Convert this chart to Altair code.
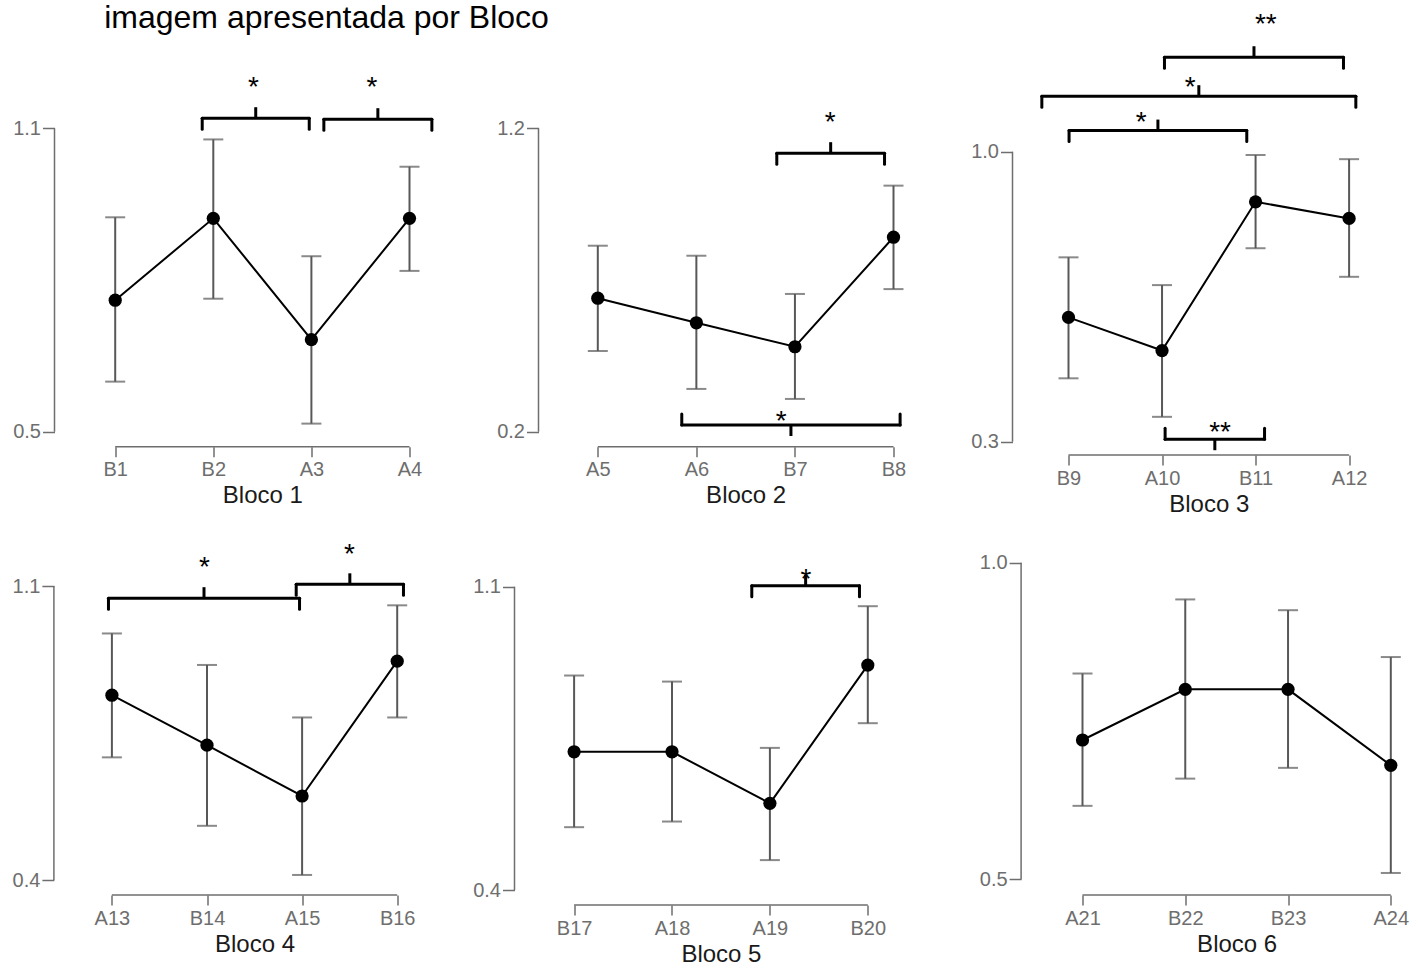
import altair as alt
import pandas as pd

# ---------------- data ----------------
TITLE = "imagem apresentada por Bloco"
BLOCK_TITLES = ["Bloco 1", "Bloco 2", "Bloco 3", "Bloco 4", "Bloco 5", "Bloco 6"]

CATEGORIES = [
    ["B1", "B2", "A3", "A4"],
    ["A5", "A6", "B7", "B8"],
    ["B9", "A10", "B11", "A12"],
    ["A13", "B14", "A15", "B16"],
    ["B17", "A18", "A19", "B20"],
    ["A21", "B22", "B23", "A24"],
]
MEANS = [
    [0.760, 0.922, 0.682, 0.922],
    [0.640, 0.559, 0.480, 0.841],
    [0.600, 0.520, 0.879, 0.839],
    [0.840, 0.721, 0.600, 0.921],
    [0.719, 0.719, 0.600, 0.919],
    [0.720, 0.800, 0.800, 0.680],
]
LOWER = [
    [0.599, 0.763, 0.516, 0.818],
    [0.466, 0.341, 0.308, 0.670],
    [0.453, 0.360, 0.767, 0.698],
    [0.692, 0.529, 0.412, 0.787],
    [0.545, 0.558, 0.469, 0.785],
    [0.616, 0.659, 0.676, 0.510],
]
UPPER = [
    [0.924, 1.078, 0.847, 1.024],
    [0.813, 0.780, 0.654, 1.011],
    [0.745, 0.678, 0.992, 0.982],
    [0.987, 0.912, 0.787, 1.054],
    [0.895, 0.881, 0.728, 1.055],
    [0.825, 0.942, 0.925, 0.851],
]
Y_TICKS = [[0.5, 1.1], [0.2, 1.2], [0.3, 1.0], [0.4, 1.1], [0.4, 1.1], [0.5, 1.0]]

# significance brackets (x in category positions, y in data units)
BR_PANEL = [0, 0, 1, 1, 2, 2, 2, 2, 3, 3, 4]
BR_X1 = [1.887, 3.127, 2.816, 1.852, 2.026, 0.715, 1.006, 2.033, 0.964, 2.938, 2.815]
BR_X2 = [2.978, 4.228, 3.909, 4.067, 3.940, 4.072, 2.906, 3.096, 2.973, 4.066, 3.915]
BR_Y = [1.120, 1.118, 1.118, 0.222, 1.228, 1.134, 1.051, 0.306, 1.071, 1.104, 1.102]
BR_DIR = ["up", "up", "up", "down", "up", "up", "up", "down", "up", "up", "up"]
BR_LABEL = ["*", "*", "*", "*", "**", "*", "*", "**", "*", "*", "*"]
BR_LABEL_X = [2.41, 3.617, 3.357, 2.860, 3.110, 2.300, 1.776, 2.621, 1.974, 3.498, 3.367]
BR_LABEL_Y = [1.195, 1.195, 1.244, 0.258, 1.324, 1.173, 1.089, 0.340, 1.162, 1.194, 1.135]

# ---------------- layout (pixels) ----------------
COL_LEFT = [53.3, 512.7, 1010.7]
COL_WIDTH = [459.4, 498.0, 400.0]
ROW_TOP = [0.0, 480.0]
ROW_GAP = 25.0
# per panel: y-axis line x, x-axis line y, first/last point x, low/high tick y
LAYOUT = [
    dict(axis_x=53.3, bottom=446.7, first=114.0, last=408.3, tick_lo=431.7, tick_hi=128.3),
    dict(axis_x=536.7, bottom=446.7, first=596.0, last=891.7, tick_lo=431.7, tick_hi=128.3),
    dict(axis_x=1010.7, bottom=455.0, first=1066.7, last=1347.3, tick_lo=441.7, tick_hi=151.7),
    dict(axis_x=52.7, bottom=895.0, first=110.7, last=396.0, tick_lo=880.0, tick_hi=586.0),
    dict(axis_x=512.7, bottom=905.0, first=572.3, last=866.0, tick_lo=890.0, tick_hi=586.7),
    dict(axis_x=1019.3, bottom=895.0, first=1080.7, last=1389.0, tick_lo=879.3, tick_hi=562.7),
]

FONT = "Liberation Sans"
AXIS_COLOR = "#6e6e6e"
ERR_COLOR = "#585858"
LEG_PX = 11
TIP_PX = 11


def label_expr(cats):
    expr = "''"
    for i in range(len(cats), 0, -1):
        expr = f"datum.value == {i} ? '{cats[i - 1]}' : ({expr})"
    return expr


def panel(k):
    lay = LAYOUT[k]
    col, row = k % 3, k // 3
    left, width = COL_LEFT[col], COL_WIDTH[col]
    top = ROW_TOP[row]
    height = lay["bottom"] - top
    cats = CATEGORIES[k]
    n = len(cats)
    step = (lay["last"] - lay["first"]) / (n - 1)
    xd0 = 1 - (lay["first"] - left) / step
    xd1 = xd0 + width / step
    x_axis_pos = 1 - (lay["first"] - lay["axis_x"]) / step
    lo_t, hi_t = Y_TICKS[k]
    ppu = (lay["tick_lo"] - lay["tick_hi"]) / (hi_t - lo_t)
    yd1 = hi_t + (lay["tick_hi"] - top) / ppu
    yd0 = lo_t - (lay["bottom"] - lay["tick_lo"]) / ppu
    xs = alt.Scale(domain=[xd0, xd1], nice=False, zero=False)
    ys = alt.Scale(domain=[yd0, yd1], nice=False, zero=False)

    title_x = (lay["first"] + lay["last"]) / 2 - left
    ax_x = alt.Axis(
        values=list(range(1, n + 1)),
        labelExpr=label_expr(cats),
        domain=False,
        grid=False,
        tickSize=10,
        tickWidth=1.5,
        tickColor=AXIS_COLOR,
        labelColor=AXIS_COLOR,
        labelFontSize=20,
        labelFont=FONT,
        labelPadding=3,
        title=BLOCK_TITLES[k],
        titleFont=FONT,
        titleFontSize=24,
        titleFontWeight="normal",
        titleColor="#1a1a1a",
        titlePadding=4,
        titleX=title_x,
    )
    ax_y = alt.Axis(
        values=[lo_t, hi_t],
        format=".1f",
        domain=False,
        grid=False,
        offset=-(lay["axis_x"] - left),
        tickSize=12,
        tickWidth=1.5,
        tickColor=AXIS_COLOR,
        labelColor=AXIS_COLOR,
        labelFontSize=20,
        labelFont=FONT,
        labelPadding=2,
        title="",
    )

    def X(field):
        return alt.X(field, scale=xs, axis=ax_x)

    def Y(field):
        return alt.Y(field, scale=ys, axis=ax_y)

    df = pd.DataFrame({
        "pos": list(range(1, n + 1)),
        "cat": cats,
        "mean": MEANS[k],
        "lo": LOWER[k],
        "hi": UPPER[k],
    })

    layers = []

    # range-frame axis lines
    yline = pd.DataFrame({"x": [x_axis_pos], "a": [lo_t], "b": [hi_t]})
    layers.append(
        alt.Chart(yline).mark_rule(color=AXIS_COLOR, strokeWidth=1.5).encode(
            x=X("x:Q"), y=Y("a:Q"), y2="b:Q"
        )
    )
    xline = pd.DataFrame({"a": [1], "b": [n], "y": [yd0]})
    layers.append(
        alt.Chart(xline).mark_rule(color=AXIS_COLOR, strokeWidth=1.5).encode(
            x=X("a:Q"), x2="b:Q", y=Y("y:Q")
        )
    )

    # error bars
    layers.append(
        alt.Chart(df).mark_rule(color=ERR_COLOR, strokeWidth=2).encode(
            x=X("pos:Q"), y=Y("lo:Q"), y2="hi:Q"
        )
    )
    layers.append(
        alt.Chart(df).transform_fold(["lo", "hi"], as_=["end", "val"]).mark_tick(
            orient="horizontal", size=20, thickness=2, color=ERR_COLOR
        ).encode(x=X("pos:Q"), y=Y("val:Q"))
    )

    # line + points
    layers.append(
        alt.Chart(df).mark_line(color="black", strokeWidth=2).encode(
            x=X("pos:Q"), y=Y("mean:Q")
        )
    )
    layers.append(
        alt.Chart(df).mark_circle(size=175, color="black", opacity=1).encode(
            x=X("pos:Q"), y=Y("mean:Q")
        )
    )

    # significance brackets
    idx = [i for i, p in enumerate(BR_PANEL) if p == k]
    if idx:
        br = pd.DataFrame({
            "x1": [BR_X1[i] for i in idx],
            "x2": [BR_X2[i] for i in idx],
            "y": [BR_Y[i] for i in idx],
            "dir": [BR_DIR[i] for i in idx],
            "label": [BR_LABEL[i] for i in idx],
            "lx": [BR_LABEL_X[i] for i in idx],
            "ly": [BR_LABEL_Y[i] for i in idx],
        })
        br["xc"] = (br["x1"] + br["x2"]) / 2
        legs = pd.concat([
            br[["x1", "y", "dir"]].rename(columns={"x1": "x"}),
            br[["x2", "y", "dir"]].rename(columns={"x2": "x"}),
        ])
        layers.append(
            alt.Chart(br).mark_rule(color="black", strokeWidth=3, strokeCap="round").encode(
                x=X("x1:Q"), x2="x2:Q", y=Y("y:Q")
            )
        )
        for d, sign in (("up", 1), ("down", -1)):
            sub_legs = legs[legs["dir"] == d]
            sub_br = br[br["dir"] == d]
            if len(sub_br) == 0:
                continue
            layers.append(
                alt.Chart(sub_legs).mark_rule(
                    color="black", strokeWidth=3, strokeCap="round", y2Offset=sign * LEG_PX
                ).encode(x=X("x:Q"), y=Y("y:Q"), y2="y:Q")
            )
            layers.append(
                alt.Chart(sub_br).mark_rule(
                    color="black", strokeWidth=3, strokeCap="butt", y2Offset=-sign * TIP_PX
                ).encode(x=X("xc:Q"), y=Y("y:Q"), y2="y:Q")
            )
        layers.append(
            alt.Chart(br).mark_text(
                color="black", fontSize=28, font=FONT, align="center", baseline="middle", dy=8
            ).encode(x=X("lx:Q"), y=Y("ly:Q"), text="label:N")
        )

    if k == 0:
        tdf = pd.DataFrame({"t": [TITLE]})
        layers.append(
            alt.Chart(tdf).mark_text(
                color="black", fontSize=32, font=FONT, align="left", baseline="alphabetic"
            ).encode(
                x=alt.value(lay["axis_x"] - left + 49.7),
                y=alt.value(28.0),
                text="t:N",
            )
        )

    return alt.layer(*layers).properties(width=width, height=height)


chart = alt.concat(*[panel(k) for k in range(6)], columns=3, spacing=0, bounds="flush")
chart.spacing = {"row": ROW_GAP, "column": 0}
chart = (
    chart.properties(padding={"left": 11.5, "top": 0, "right": 5, "bottom": 5})
    .configure(font=FONT)
    .configure_view(strokeWidth=0)
)

chart.save("out.html", embed_options={"renderer": "svg", "actions": False})
